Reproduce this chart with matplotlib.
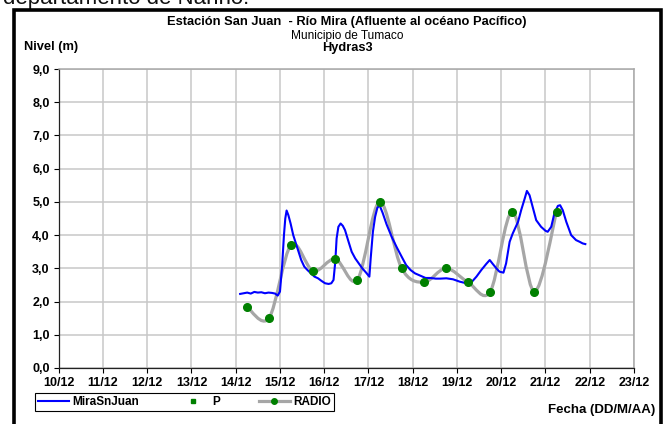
import matplotlib
matplotlib.use("Agg")
import matplotlib.pyplot as plt
import numpy as np
from matplotlib.path import Path
from matplotlib.patches import PathPatch, Rectangle
from matplotlib.lines import Line2D

plt.rcParams['font.family'] = ['Liberation Sans', 'DejaVu Sans']

# ---- data (x = day of December, fractional) ----
mira_day = [14.10, 14.18, 14.26, 14.34, 14.42, 14.50, 14.58, 14.66, 14.74, 14.82, 14.89, 14.95,
            15.00, 15.05, 15.09, 15.12, 15.15, 15.19, 15.24, 15.30, 15.36, 15.42, 15.48, 15.55,
            15.62, 15.70, 15.78, 15.86, 15.94, 16.02, 16.10, 16.16, 16.21, 16.25, 16.28, 16.32,
            16.37, 16.42, 16.47, 16.55, 16.62, 16.70, 16.78, 16.86, 16.94, 17.02, 17.05, 17.10,
            17.15, 17.20, 17.25, 17.32, 17.41, 17.53, 17.64, 17.75, 17.85, 17.95, 18.05, 18.17,
            18.29, 18.40, 18.52, 18.62, 18.76, 18.91, 19.06, 19.21, 19.32, 19.44, 19.55, 19.66,
            19.74, 19.81, 19.89, 19.96, 20.05, 20.11, 20.19, 20.26, 20.38, 20.45, 20.53, 20.58,
            20.64, 20.71, 20.79, 20.90, 21.00, 21.05, 21.13, 21.20, 21.28, 21.33, 21.39, 21.47,
            21.58, 21.69, 21.77, 21.84, 21.90]
mira_val = [2.23, 2.25, 2.27, 2.24, 2.29, 2.27, 2.28, 2.25, 2.27, 2.26, 2.24, 2.18,
            2.30, 3.10, 4.00, 4.50, 4.74, 4.60, 4.35, 4.00, 3.75, 3.50, 3.25, 3.05,
            2.95, 2.85, 2.75, 2.70, 2.62, 2.55, 2.53, 2.55, 2.65, 3.20, 3.90, 4.25,
            4.35, 4.28, 4.15, 3.80, 3.50, 3.30, 3.15, 3.00, 2.88, 2.75, 3.30, 4.10,
            4.55, 4.82, 4.90, 4.67, 4.32, 3.93, 3.63, 3.35, 3.10, 2.95, 2.85, 2.78,
            2.71, 2.71, 2.69, 2.69, 2.70, 2.67, 2.60, 2.55, 2.57, 2.75, 2.95, 3.13,
            3.25, 3.13, 3.00, 2.90, 2.87, 3.15, 3.80, 4.05, 4.40, 4.75, 5.10, 5.33,
            5.20, 4.85, 4.45, 4.25, 4.13, 4.10, 4.25, 4.65, 4.88, 4.90, 4.75, 4.40,
            4.00, 3.85, 3.80, 3.75, 3.73]

p_day = []
p_val = []

radio_day = [14.25, 14.75, 15.25, 15.75, 16.25, 16.75, 17.25, 17.75,
             18.25, 18.75, 19.25, 19.75, 20.25, 20.75, 21.25]
radio_val = [1.85, 1.50, 3.70, 2.92, 3.28, 2.66, 5.00, 3.00,
             2.58, 3.00, 2.58, 2.30, 4.70, 2.30, 4.70]

x_ticks = list(range(10, 24))
x_labels = [f"{d}/12" for d in x_ticks]
y_ticks = list(range(0, 10))
y_labels = [f"{v},0" for v in y_ticks]

# ---- figure ----
W, H = 664, 424
fig = plt.figure(figsize=(W / 100, H / 100), dpi=100)

def fx(px):
    return px / W

def fy(py):
    return 1 - py / H

# outer frame
fig.patches.append(Rectangle((fx(14.3), fy(440)), fx(661.3) - fx(14.3), fy(9.5) - fy(440),
                             transform=fig.transFigure, fill=False, lw=2.6,
                             edgecolor='black', zorder=10))
# heading text running off the top edge
fig.text(fx(3), fy(4.0), "departamento de Nariño.", fontsize=16, va='baseline', ha='left',
         color='#111111')

ax = fig.add_axes([fx(58.7), fy(368), fx(634) - fx(58.7), fy(69) - fy(368)])
ax.set_xlim(10, 23)
ax.set_ylim(0, 9)
ax.set_xticks(x_ticks)
ax.set_xticklabels(x_labels, fontweight='bold', fontsize=9)
ax.set_yticks(y_ticks)
ax.set_yticklabels(y_labels, fontweight='bold', fontsize=9)
ax.tick_params(direction='out', length=3.5, width=0.8, colors='black', pad=3)
ax.grid(True, color='#c8c8c8', lw=1.1)
ax.set_axisbelow(True)
for s in ('top', 'right'):
    ax.spines[s].set_color('#a8a8a8')
    ax.spines[s].set_linewidth(1.1)
for s in ('left', 'bottom'):
    ax.spines[s].set_color('#222222')
    ax.spines[s].set_linewidth(0.9)

# smoothed RADIO curve (cubic Bezier segments through the points)
pts = np.column_stack([radio_day, radio_val])
n = len(pts)
verts = [tuple(pts[0])]
codes = [Path.MOVETO]
for i in range(n - 1):
    p0 = pts[i - 1] if i > 0 else pts[i]
    p1 = pts[i]
    p2 = pts[i + 1]
    p3 = pts[i + 2] if i + 2 < n else pts[i + 1]
    c1 = p1 + (p2 - p0) / 6.0
    c2 = p2 - (p3 - p1) / 6.0
    verts += [tuple(c1), tuple(c2), tuple(p2)]
    codes += [Path.CURVE4] * 3
ax.add_patch(PathPatch(Path(verts, codes), facecolor='none', edgecolor='#a6a6a6',
                       lw=2.3, zorder=3, capstyle='round'))

ax.plot(mira_day, mira_val, color='#0000ff', lw=1.5, zorder=4)
ax.plot(p_day, p_val, ls='none', marker='s', ms=2.5, color='#008000', zorder=5)
ax.plot(radio_day, radio_val, ls='none', marker='o', ms=5.5, color='#008000', zorder=5)

# titles
fig.text(fx(347), fy(21.5), "Estación San Juan  - Río Mira (Afluente al océano Pacífico)",
         ha='center', va='center', fontsize=9.3, fontweight='bold')
fig.text(fx(347), fy(35.5), "Municipio de Tumaco", ha='center', va='center', fontsize=8.6)
fig.text(fx(347), fy(48), "Hydras3", ha='center', va='center', fontsize=9.2, fontweight='bold')
fig.text(fx(24), fy(47), "Nivel (m)", ha='left', va='center', fontsize=9.3, fontweight='bold')
fig.text(fx(655), fy(410), "Fecha (DD/M/AA)", ha='right', va='center', fontsize=9.5,
         fontweight='bold')

# legend
handles = [Line2D([], [], color='#0000ff', lw=1.5),
           Line2D([], [], ls='none', marker='s', ms=2.5, color='#008000'),
           Line2D([], [], color='#a6a6a6', lw=2.3, marker='o', ms=4,
                  markerfacecolor='#008000', markeredgecolor='#008000')]
leg = fig.legend(handles, ["MiraSnJuan", "P", "RADIO"], ncol=3,
                 loc='upper left', bbox_to_anchor=(fx(35), fy(393)),
                 frameon=True, fancybox=False, edgecolor='black', framealpha=1,
                 prop={'weight': 'bold', 'size': 8.5}, handlelength=2.6,
                 handletextpad=0.3, columnspacing=3.3, borderpad=0.25,
                 borderaxespad=0)
leg.get_frame().set_linewidth(0.8)

fig.savefig("out.png", dpi=100)
